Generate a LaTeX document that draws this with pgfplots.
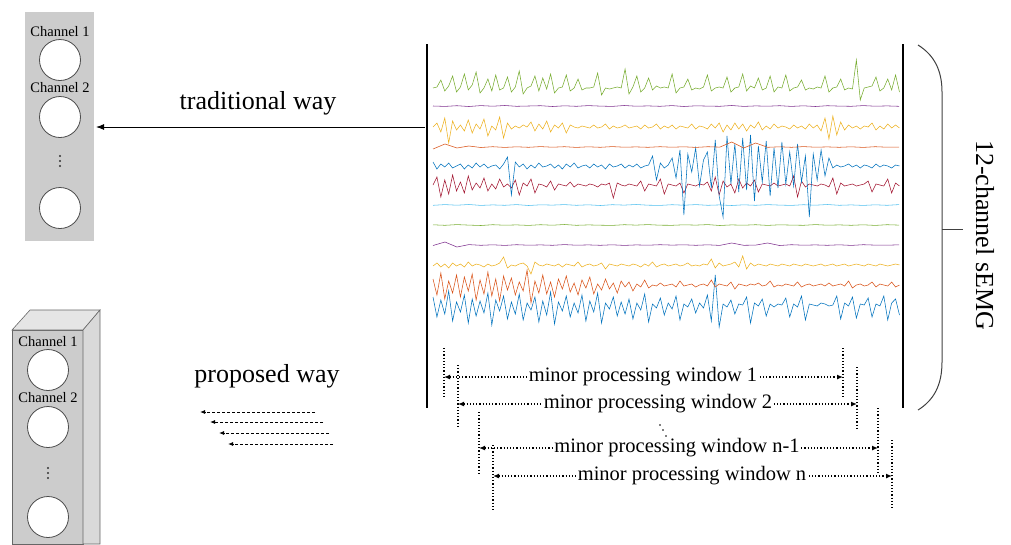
\documentclass[border=0pt]{standalone}
\usepackage{pgfplots}
\pgfplotsset{compat=1.18}
\usepackage{fontspec}
\setmainfont{Liberation Serif}
\usetikzlibrary{arrows.meta}

\definecolor{mblue}{RGB}{0,114,189}
\definecolor{morange}{RGB}{217,83,25}
\definecolor{myellow}{RGB}{237,177,32}
\definecolor{mpurple}{RGB}{126,47,142}
\definecolor{mgreen}{RGB}{119,172,48}
\definecolor{mcyan}{RGB}{77,190,238}
\definecolor{mred}{RGB}{162,20,47}

% one sEMG channel: colour, sample step, baseline, offsets
\newcommand{\chan}[4]{%
  \addplot[#1, line width=0.55pt, no marks] table[row sep=\\,
    x expr=433+#2*\coordindex, y expr=#3+\thisrow{v}] {v\\#4};}

\begin{document}
\begin{tikzpicture}
\begin{axis}[
  width=1011pt, height=544pt, scale only axis,
  xmin=0, xmax=1011, ymin=0, ymax=544, y dir=reverse,
  hide axis, clip=false,
  ]
\path (0,0) rectangle (1011,544);

% ---- channel 12 (blue)
\chan{mblue}{3.92}{305}{%
-8\\12\\-5\\9\\-14\\16\\-3\\7\\-10\\18\\
-6\\11\\-4\\8\\-12\\20\\-5\\6\\-9\\14\\
-3\\9\\-11\\15\\-2\\5\\-8\\17\\-4\\10\\
-13\\19\\-3\\6\\-9\\12\\-2\\8\\-10\\16\\
-4\\7\\-12\\18\\-2\\4\\-8\\11\\-3\\9\\
-6\\14\\-2\\5\\-11\\17\\-1\\3\\-7\\10\\
-2\\4\\-9\\15\\-1\\2\\-6\\8\\-2\\3\\
-10\\16\\-30\\22\\-1\\2\\-5\\9\\-1\\0\\
-8\\18\\-2\\1\\-6\\11\\-1\\2\\-1\\0\\
-7\\12\\-1\\2\\-9\\15\\-1\\0\\1\\-2\\
-1\\1\\0\\-9\\14\\-2\\1\\-8\\13\\-1\\
0\\-7\\12\\-1\\1\\-9\\15\\-2\\-6\\10\\}
% ---- channel 11 (orange)
\chan{morange}{3.92}{285}{%
-6\\10\\-12\\14\\-4\\8\\-10\\12\\-8\\6\\
-11\\15\\-5\\9\\-13\\11\\-6\\16\\-9\\5\\
-7\\10\\-3\\6\\-15\\18\\-4\\8\\-10\\9\\
-3\\12\\-6\\4\\-9\\7\\-2\\10\\-5\\3\\
-8\\9\\-1\\5\\-6\\4\\-2\\8\\-4\\2\\
-3\\6\\-1\\2\\-5\\3\\0\\1\\-2\\1\\
0\\-1\\2\\-4\\1\\0\\-1\\2\\0\\-1\\
1\\-5\\2\\-1\\0\\1\\-3\\4\\-1\\0\\
1\\-1\\0\\-2\\1\\0\\-4\\2\\0\\1\\
-1\\0\\1\\-3\\2\\0\\-1\\1\\0\\-1\\
1\\-2\\1\\0\\-1\\1\\-4\\3\\0\\-1\\
1\\0\\-3\\2\\-1\\0\\1\\-3\\2\\0\\}
% ---- channel 10 (yellow)
\chan{myellow}{3.92}{265}{%
1\\-2\\2\\-1\\3\\-2\\1\\-1\\2\\-3\\
1\\-1\\0\\2\\-1\\1\\0\\-2\\-8\\3\\
0\\1\\-1\\-2\\1\\9\\-3\\0\\1\\-1\\
0\\1\\-1\\2\\-1\\0\\1\\-3\\2\\0\\
-1\\1\\0\\-2\\4\\-1\\0\\1\\-1\\0\\
1\\-1\\0\\2\\-1\\1\\-3\\2\\0\\-1\\
1\\0\\-1\\1\\0\\-2\\1\\0\\1\\-1\\
0\\-6\\3\\-2\\1\\0\\-1\\-3\\2\\-9\\
4\\-2\\1\\-1\\0\\1\\-1\\0\\1\\-1\\
0\\1\\-1\\0\\1\\-1\\0\\1\\0\\-1\\
1\\0\\-1\\1\\0\\-1\\1\\0\\-1\\0\\
1\\-1\\0\\1\\-1\\0\\1\\0\\-1\\0\\}
% ---- channel 9 (purple)
\chan{mpurple}{11.95}{245}{%
0.5\\-3\\2\\-0.4\\0.3\\-0.2\\0.4\\-0.3\\0.2\\-0.1\\
0.3\\-0.4\\0.2\\-0.1\\0.3\\-0.2\\0.4\\-0.1\\0.2\\-0.3\\
0.1\\-0.2\\0.3\\-0.2\\0.4\\-2\\0.3\\0.1\\-2\\0.5\\
-0.3\\0.2\\-0.1\\0.3\\-0.2\\0.4\\-0.3\\0.1\\0.2\\-0.2\\}
% ---- channel 8 (green)
\chan{mgreen}{11.95}{225}{%
-0.2\\0.3\\-0.4\\0.1\\0.5\\-0.3\\0.2\\-0.1\\0.4\\-0.3\\
0.2\\-0.5\\0.3\\-0.1\\0.2\\0.4\\-0.3\\0.1\\-0.4\\0.2\\
0.3\\-0.2\\0.1\\-0.4\\0.5\\-0.1\\0.2\\-0.3\\0.4\\-0.2\\
0.1\\0.3\\-0.4\\0.2\\-0.1\\0.3\\-0.2\\0.4\\-0.3\\0.1\\}
% ---- channel 7 (light blue)
\chan{mcyan}{11.95}{205}{%
0.3\\-0.4\\0.2\\-0.5\\0.4\\-0.1\\0.3\\-0.4\\0.5\\-0.2\\
0.1\\-0.4\\0.3\\-0.2\\0.5\\-0.3\\0.1\\-0.5\\0.2\\0.4\\
-0.3\\0.2\\-0.4\\0.3\\-0.1\\0.5\\-0.2\\0.3\\-0.4\\0.1\\
0.4\\-0.3\\0.2\\-0.5\\0.3\\-0.1\\0.4\\-0.2\\0.3\\-0.4\\}
% ---- channel 6 (dark red)
\chan{mred}{3.92}{185}{%
0\\-8\\12\\-5\\9\\-10\\6\\-3\\8\\-9\\
5\\-2\\3\\-7\\6\\-1\\4\\-6\\2\\-1\\
3\\-5\\10\\-2\\1\\-6\\8\\-1\\0\\2\\
-4\\5\\-1\\0\\1\\-3\\2\\-1\\0\\1\\
-1\\0\\2\\-1\\0\\-2\\13\\-2\\0\\1\\
-1\\0\\1\\-4\\6\\-1\\0\\1\\-6\\9\\
-1\\0\\1\\-2\\8\\-1\\0\\1\\-1\\0\\
-3\\6\\-8\\10\\-4\\2\\-1\\8\\-6\\3\\
-2\\1\\-5\\7\\-1\\0\\1\\-2\\1\\0\\
-1\\1\\-9\\12\\-4\\2\\-1\\0\\1\\-1\\
0\\2\\-7\\9\\-2\\1\\0\\-1\\1\\0\\
-1\\-4\\7\\-1\\0\\1\\-6\\8\\-2\\1\\}
% ---- channel 5 (blue)
\chan{mblue}{3.92}{166}{%
-4\\3\\-2\\1\\-3\\2\\0\\-2\\3\\-1\\
2\\-3\\1\\-2\\2\\0\\-1\\3\\-2\\-9\\
29\\-4\\1\\-2\\3\\-1\\2\\-3\\1\\0\\
-2\\2\\-1\\3\\-2\\1\\-3\\2\\0\\-1\\
2\\-2\\1\\-1\\3\\-2\\1\\0\\-2\\2\\
-1\\1\\-2\\2\\0\\-1\\-10\\14\\-3\\2\\
-1\\-8\\12\\-16\\49\\-12\\6\\-18\\20\\-6\\
-14\\22\\-26\\30\\51\\-30\\18\\-22\\26\\-28\\
24\\-31\\35\\-20\\16\\-25\\30\\-18\\22\\-24\\
18\\-14\\20\\-22\\16\\-10\\51\\-12\\14\\-16\\
10\\-8\\2\\-1\\1\\0\\-2\\1\\-1\\2\\
-1\\0\\2\\-2\\1\\-1\\0\\2\\-1\\0\\}
% ---- channel 4 (orange)
\chan{morange}{11.95}{147}{%
2\\-3\\1\\-1\\0.5\\-0.3\\0.4\\-0.2\\0.3\\-0.4\\
0.2\\-0.3\\0.4\\-0.2\\0.3\\-0.4\\0.2\\-0.1\\0.3\\-0.3\\
0.2\\-0.2\\0.4\\-0.3\\0.1\\-5\\1\\-4\\0.3\\-0.2\\
0.3\\-0.4\\0.2\\-0.1\\0.3\\-0.2\\0.4\\-0.3\\0.2\\0.1\\}
% ---- channel 3 (yellow)
\chan{myellow}{3.92}{127}{%
0\\-4\\5\\-9\\16\\-6\\3\\-2\\4\\-7\\
6\\-3\\2\\-8\\9\\-1\\3\\-10\\11\\-4\\
2\\-1\\1\\-2\\0\\-5\\4\\-3\\2\\-6\\
5\\-2\\1\\-4\\6\\-2\\0\\1\\-1\\0\\
1\\-2\\1\\0\\-3\\2\\-1\\1\\0\\-2\\
1\\0\\-1\\2\\-2\\1\\0\\-3\\2\\-1\\
1\\-2\\2\\-1\\0\\1\\-3\\2\\-1\\0\\
2\\-3\\1\\-4\\5\\-2\\3\\-4\\2\\-3\\
4\\-2\\1\\-5\\3\\-1\\2\\-3\\1\\-1\\
0\\2\\-2\\1\\-1\\2\\-3\\1\\-2\\4\\
-9\\12\\-11\\8\\-5\\3\\-2\\1\\-1\\2\\
-1\\0\\-4\\3\\-1\\2\\-3\\1\\-2\\1\\}
% ---- channel 2 (purple)
\chan{mpurple}{11.95}{106}{%
0\\0.4\\-0.3\\0.5\\-0.4\\0.2\\-0.5\\0.3\\0\\-0.3\\
0.5\\-0.2\\0.3\\-0.4\\0.1\\0.4\\-0.5\\0.2\\-0.1\\0.3\\
-0.4\\0.5\\-0.2\\0.1\\0.3\\-0.5\\0.4\\-0.1\\0.2\\-0.3\\
0.4\\-0.2\\0.5\\-0.3\\0.1\\0.3\\-0.4\\0.2\\-0.1\\0.3\\}
% ---- channel 1 (green)
\chan{mgreen}{3.92}{88}{%
0\\-1\\-8\\3\\-2\\-12\\4\\-1\\-14\\2\\
-3\\-16\\5\\0\\-9\\3\\-13\\2\\0\\-11\\
4\\-1\\-17\\6\\0\\-2\\-12\\3\\-10\\1\\
-14\\5\\0\\-1\\-13\\3\\0\\-9\\2\\0\\
0\\-1\\-15\\7\\0\\1\\0\\-1\\0\\-19\\
6\\-1\\-12\\4\\0\\-10\\2\\-2\\0\\-1\\
0\\-14\\5\\0\\-1\\-9\\2\\0\\1\\-1\\
-13\\3\\0\\-1\\0\\-11\\4\\0\\-1\\-14\\
3\\-2\\0\\-10\\2\\0\\-12\\4\\-1\\0\\
-13\\3\\0\\-1\\-8\\2\\0\\1\\-1\\0\\
-12\\4\\0\\-1\\-9\\2\\0\\1\\-28\\12\\
0\\-1\\-2\\-11\\3\\0\\-9\\2\\-13\\4\\}

% ---- frame of the signal panel
\draw[line width=1.6pt] (427,44) -- (427,408);
\draw[line width=1.6pt] (903,44) -- (903,408);

% ---- brace and label
\draw[black!75, line width=1pt] (918,45) .. controls (934,55) and (942,70) .. (942,92)
  -- (942,362) .. controls (942,385) and (934,400) .. (918,410);
\draw[black!75, line width=1pt] (942,229) -- (963,229);
\node[rotate=-90, font=\fontsize{26}{30}\selectfont] at (985,235) {12-channel sEMG};

% ---- traditional way
\node[font=\fontsize{26}{30}\selectfont] at (258,103) {traditional way};
\draw[line width=1pt, -{Latex[length=8pt,width=6pt]}] (425,127) -- (96,127);

\fill[gray!40] (25,12) rectangle (94,241);
\node[font=\fontsize{14.5}{16}\selectfont] at (60,32) {Channel 1};
\node[font=\fontsize{14.5}{16}\selectfont] at (60,88) {Channel 2};
\draw[fill=white, draw=black!70, line width=0.8pt] (60,60) circle[radius=20.5];
\draw[fill=white, draw=black!70, line width=0.8pt] (60,117) circle[radius=20.5];
\draw[fill=white, draw=black!70, line width=0.8pt] (60,208) circle[radius=20.5];
\fill[black!80] (60,156) circle[radius=1.1];
\fill[black!80] (60,161) circle[radius=1.1];
\fill[black!80] (60,166) circle[radius=1.1];

% ---- proposed way
\node[font=\fontsize{26}{30}\selectfont] at (267,376) {proposed way};
\tikzset{darr/.style={line width=0.9pt, dash pattern=on 3pt off 2pt, -{Latex[length=5pt,width=4pt]}}}
\draw[darr] (315,412) -- (200,412);
\draw[darr] (323,422) -- (210,422);
\draw[darr] (329,433) -- (219,433);
\draw[darr] (333,444) -- (228,444);

\filldraw[fill=gray!40, draw=black!60, line width=0.6pt] (12,330) rectangle (83,544);
\filldraw[fill=gray!20, draw=black!60, line width=0.6pt] (12,330) -- (30,310) -- (100,310) -- (83,330) -- cycle;
\filldraw[fill=gray!30, draw=black!60, line width=0.6pt] (83,330) -- (100,310) -- (100,544) -- (83,544) -- cycle;
\node[font=\fontsize{14.5}{16}\selectfont] at (48,342) {Channel 1};
\node[font=\fontsize{14.5}{16}\selectfont] at (48,398) {Channel 2};
\draw[fill=white, draw=black!70, line width=0.8pt] (48,370) circle[radius=20.5];
\draw[fill=white, draw=black!70, line width=0.8pt] (48,427) circle[radius=20.5];
\draw[fill=white, draw=black!70, line width=0.8pt] (48,517) circle[radius=20.5];
\fill[black!80] (48,468) circle[radius=1.1];
\fill[black!80] (48,473) circle[radius=1.1];
\fill[black!80] (48,478) circle[radius=1.1];

% ---- processing windows
\tikzset{win/.style={dotted, line width=1.2pt},
  warr/.style={dotted, line width=1.2pt, {Latex[length=6pt,width=5pt]}-{Latex[length=6pt,width=5pt]}},
  wtxt/.style={fill=white, inner sep=1pt, font=\fontsize{20.5}{24}\selectfont}}
\draw[win] (444,348) -- (444,398);  \draw[win] (843,348) -- (843,397);
\draw[warr] (444,377) -- (843,377);
\node[wtxt] at (643,377) {minor processing window 1};

\draw[win] (458,365) -- (458,428);  \draw[win] (857,367) -- (857,430);
\draw[warr] (458,404) -- (857,404);
\node[wtxt] at (658,404) {minor processing window 2};

\fill (660,425) circle[radius=0.9];
\fill (663,430) circle[radius=0.9];
\fill (666,436) circle[radius=0.9];

\draw[win] (479,412) -- (479,473);  \draw[win] (878,408) -- (878,473);
\draw[warr] (479,448) -- (878,448);
\node[wtxt] at (677,448) {minor processing window n-1};

\draw[win] (493,445) -- (493,510);  \draw[win] (892,440) -- (892,510);
\draw[warr] (493,476) -- (892,476);
\node[wtxt] at (692,476) {minor processing window n};
\end{axis}
\end{tikzpicture}
\end{document}
